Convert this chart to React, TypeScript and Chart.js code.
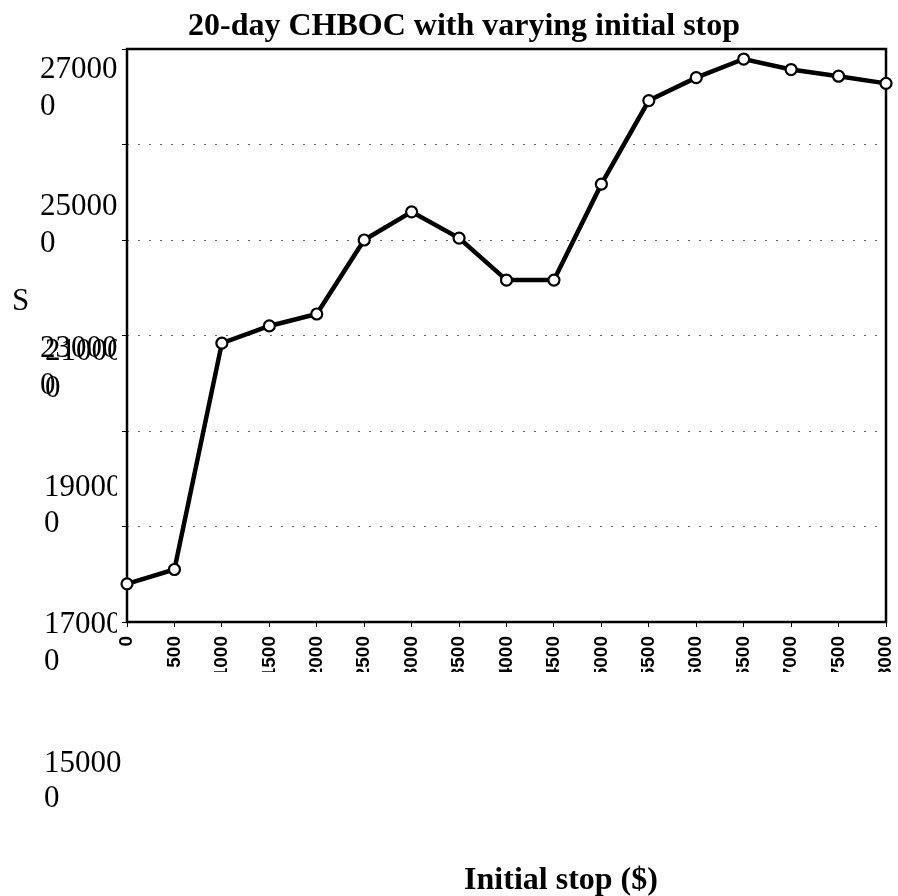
import React, { useEffect, useRef } from "react";
import { Chart, registerables } from "chart.js";

Chart.register(...registerables);

// ---- data ----
const stopLevels: string[] = [
  "0", "500", "1000", "1500", "2000", "2500", "3000", "3500", "4000",
  "4500", "5000", "5500", "6000", "6500", "7000", "7500", "8000",
];
const profitValues: number[] = [
  158000, 161000, 208400, 212000, 214500, 230000, 235900, 230400, 221600,
  221600, 241700, 259200, 264000, 267900, 265700, 264300, 262800,
];
const yAxisMin = 150000;
const yAxisMax = 270000;
const yAxisStep = 20000;
const yTickTexts: string[] = ["270000", "250000", "230000", "210000", "190000", "170000", "150000"];
const chartTitle = "20-day CHBOC with varying initial stop";
const xAxisTitle = "Initial stop ($)";
const yAxisTitle = "S";

// ---- layout of the (misplaced) y-axis label texts: [x, baseline line1, baseline line2] ----
const yLabelPlaces: [number, number, number][] = [
  [40, 78, 115],
  [40, 215, 252],
  [40, 357, 394],
  [45, 360, 397],
  [44, 496, 532],
  [44, 633, 670],
  [44, 772, 807],
];

const PANEL = { x: 117, y: 40, w: 781, h: 637 };

const decorPlugin = {
  id: "decor",
  beforeDraw(chart: any) {
    const ctx = chart.ctx as CanvasRenderingContext2D;
    ctx.save();
    ctx.fillStyle = "#ffffff";
    ctx.fillRect(0, 0, chart.width, chart.height);
    ctx.fillStyle = "#000000";
    ctx.textAlign = "left";
    ctx.textBaseline = "alphabetic";
    ctx.font = '31px "Liberation Serif", serif';
    yTickTexts.forEach((t, i) => {
      const [x, b1, b2] = yLabelPlaces[i];
      ctx.fillText(t.slice(0, 5), x, b1);
      ctx.fillText(t.slice(5), x, b2);
    });
    ctx.fillText(yAxisTitle, 12, 310);
    // white panel of the chart picture
    ctx.fillStyle = "#ffffff";
    ctx.fillRect(PANEL.x, PANEL.y, PANEL.w, PANEL.h);
    ctx.fillStyle = "#000000";
    ctx.textAlign = "center";
    ctx.font = 'bold 32px "Liberation Serif", serif';
    ctx.fillText(chartTitle, 464, 35);
    ctx.fillText(xAxisTitle, 561, 889);
    ctx.restore();
    ctx.save();
    ctx.beginPath();
    ctx.rect(PANEL.x, PANEL.y, PANEL.w, PANEL.h);
    ctx.clip();
  },
  beforeDatasetsDraw(chart: any) {
    const ctx = chart.ctx as CanvasRenderingContext2D;
    const a = chart.chartArea;
    ctx.save();
    ctx.strokeStyle = "#000000";
    ctx.lineWidth = 2.5;
    ctx.strokeRect(a.left, a.top, a.right - a.left, a.bottom - a.top);
    ctx.restore();
  },
  afterDraw(chart: any) {
    chart.ctx.restore();
  },
};

export default function App() {
  const ref = useRef<HTMLCanvasElement | null>(null);
  useEffect(() => {
    if (!ref.current) return;
    const chart = new Chart(ref.current, {
      type: "line",
      data: {
        labels: stopLevels,
        datasets: [
          {
            data: profitValues,
            borderColor: "#000000",
            borderWidth: 4.5,
            tension: 0,
            pointRadius: 5.5,
            pointHoverRadius: 5.5,
            pointBorderWidth: 2.2,
            pointBackgroundColor: "#ffffff",
            pointBorderColor: "#000000",
          },
        ],
      },
      options: {
        animation: false,
        responsive: false,
        events: [],
        layout: { padding: { left: 117, top: 49, right: 12, bottom: 224 } },
        plugins: {
          legend: { display: false },
          title: { display: false },
          tooltip: { enabled: false },
        },
        scales: {
          x: {
            type: "category",
            offset: false,
            grid: {
              drawOnChartArea: false,
              drawTicks: true,
              tickLength: 5,
              tickColor: "#000000",
              tickWidth: 1,
            },
            border: { display: false },
            ticks: {
              autoSkip: false,
              minRotation: 90,
              maxRotation: 90,
              padding: 9,
              color: "#000000",
              font: { family: '"Liberation Sans", Arial, sans-serif', size: 19, weight: "bold" },
            },
            afterFit: (s: any) => {
              s.height = 50;
              s.paddingLeft = 0;
              s.paddingRight = 0;
            },
          },
          y: {
            min: yAxisMin,
            max: yAxisMax,
            ticks: { display: false, stepSize: yAxisStep },
            grid: {
              color: "#666666",
              lineWidth: 1,
              drawTicks: true,
              tickLength: 5,
              tickColor: "#000000",
              tickBorderDash: [],
            },
            border: { display: false, dash: [2, 9] },
            afterFit: (s: any) => {
              s.width = 10;
              s.paddingTop = 0;
              s.paddingBottom = 0;
            },
          },
        },
      },
      plugins: [decorPlugin],
    });
    return () => chart.destroy();
  }, []);
  return (
    <div style={{ position: "absolute", left: 0, top: 0, width: 898, height: 896, background: "#fff" }}>
      <canvas ref={ref} width={898} height={896} style={{ display: "block" }} />
    </div>
  );
}
